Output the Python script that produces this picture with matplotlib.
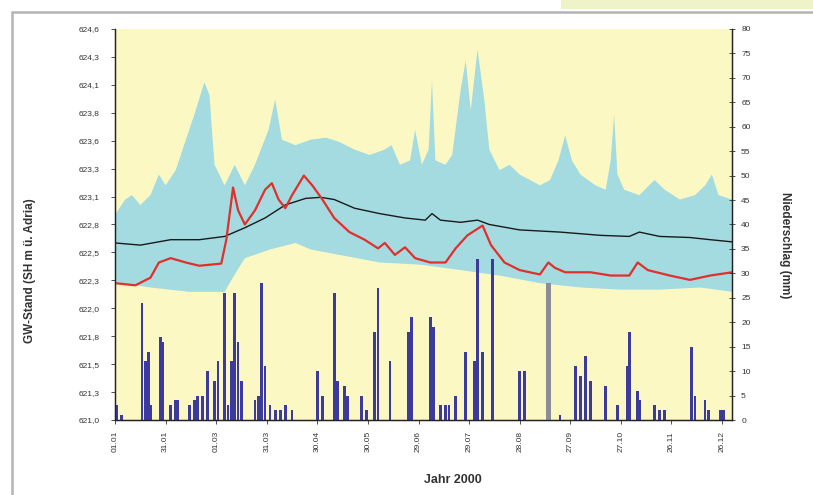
import matplotlib
import numpy as np
import pandas as pd

matplotlib.use("Agg")
import matplotlib.pyplot as plt
from matplotlib.ticker import FuncFormatter
from matplotlib.patches import Rectangle

plt.rcParams["font.family"] = ["Liberation Sans", "DejaVu Sans"]

# ---- data (day of year 2000) ----
band_top_day = [0, 6, 10, 15, 21, 26, 30, 36, 42, 47, 53, 56, 59, 65, 71, 77, 83, 91, 95, 99,
                107, 116, 125, 133, 142, 151, 160, 164, 169, 175, 178, 182, 186, 188, 190, 196,
                200, 205, 208, 211, 213, 215, 219, 222, 228, 234, 240, 246, 252, 258, 263, 267,
                271, 276, 285, 291, 294, 296, 298, 302, 311, 320, 326, 335, 344, 350, 354, 358, 366]
band_top_gw = [622.89, 623.03, 623.07, 622.98, 623.07, 623.26, 623.16, 623.30, 623.58, 623.81,
               624.11, 623.99, 623.35, 623.16, 623.35, 623.16, 623.35, 623.67, 623.95, 623.58,
               623.53, 623.58, 623.60, 623.56, 623.49, 623.44, 623.49, 623.53, 623.35, 623.39,
               623.67, 623.35, 623.49, 624.13, 623.39, 623.35, 623.44, 624.04, 624.31, 623.85,
               624.13, 624.41, 623.95, 623.49, 623.30, 623.35, 623.26, 623.21, 623.16, 623.21,
               623.39, 623.62, 623.39, 623.26, 623.16, 623.12, 623.39, 623.81, 623.26, 623.12,
               623.07, 623.21, 623.12, 623.03, 623.07, 623.16, 623.26, 623.07, 623.03]

band_low_day = [0, 21, 44, 65, 71, 77, 92, 107, 116, 133, 157, 181, 205, 228, 252, 276, 300, 323, 347, 366]
band_low_gw = [622.27, 622.22, 622.18, 622.18, 622.34, 622.49, 622.57, 622.63, 622.57, 622.52,
               622.45, 622.43, 622.38, 622.33, 622.26, 622.22, 622.20, 622.20, 622.22, 622.18]

mean_day = [0, 15, 33, 50, 65, 77, 89, 101, 113, 122, 130, 142, 157, 172, 184, 188, 193, 205,
            215, 222, 240, 264, 288, 305, 311, 323, 341, 353, 366]
mean_gw = [622.63, 622.61, 622.66, 622.66, 622.69, 622.77, 622.86, 622.98, 623.04, 623.05,
           623.03, 622.95, 622.90, 622.86, 622.84, 622.90, 622.84, 622.82, 622.84, 622.80,
           622.75, 622.73, 622.70, 622.69, 622.73, 622.69, 622.68, 622.66, 622.64]

gw2000_day = [0, 12, 21, 26, 33, 42, 50, 63, 66, 70, 73, 77, 83, 89, 93, 97, 101, 105, 112, 117,
              123, 130, 139, 148, 156, 160, 166, 172, 178, 187, 196, 202, 209, 218, 223, 231,
              240, 252, 257, 261, 267, 282, 294, 305, 310, 316, 329, 341, 353, 366]
gw2000_gw = [622.26, 622.24, 622.31, 622.45, 622.49, 622.45, 622.42, 622.44, 622.66, 623.14,
             622.93, 622.80, 622.93, 623.12, 623.18, 623.03, 622.95, 623.07, 623.25, 623.16,
             623.03, 622.86, 622.73, 622.66, 622.58, 622.63, 622.52, 622.59, 622.49, 622.45,
             622.45, 622.58, 622.70, 622.79, 622.61, 622.45, 622.38, 622.34, 622.45, 622.40,
             622.36, 622.36, 622.33, 622.33, 622.45, 622.38, 622.33, 622.29, 622.33, 622.36]

rain_day = [1, 4, 16, 18, 20, 21, 27, 28, 33, 36, 37, 44, 47, 49, 52, 55, 59, 61, 65, 67, 69,
            71, 73, 75, 83, 85, 87, 89, 92, 95, 98, 101, 105, 120, 123, 130, 132, 136, 138, 146,
            149, 154, 156, 163, 174, 176, 187, 189, 193, 196, 198, 202, 208, 213, 215, 218, 224,
            240, 243, 264, 273, 276, 279, 282, 291, 298, 304, 305, 310, 311, 320, 323, 326, 342,
            344, 350, 352, 359, 361]
rain_mm = [3, 1, 24, 12, 14, 3, 17, 16, 3, 4, 4, 3, 4, 5, 5, 10, 8, 12, 26, 3, 12,
           26, 16, 8, 4, 5, 28, 11, 3, 2, 2, 3, 2, 10, 5, 26, 8, 7, 5, 5,
           2, 18, 27, 12, 18, 21, 21, 19, 3, 3, 3, 5, 14, 12, 33, 14, 33,
           10, 10, 1, 11, 9, 13, 8, 7, 3, 11, 18, 6, 4, 3, 2, 2, 15,
           5, 4, 2, 2, 2]

rain_grey_day = [257]
rain_grey_mm = [28]

gw_ticks = np.linspace(621.0, 624.6, 15)
rain_ticks = np.arange(0, 81, 5)
date_ticks = np.arange(0, 361, 30)
date_labels = [(pd.Timestamp("2000-01-01") + pd.Timedelta(days=int(d))).strftime("%d.%m")
               for d in date_ticks]

# ---- figure ----
fig = plt.figure(figsize=(8.13, 4.95), dpi=100)
ax = fig.add_axes([0.1415, 0.1515, 0.759, 0.790])
ax2 = ax.twinx()

ax.set_facecolor("#fcf8c4")

poly_x = np.concatenate([band_top_day, band_low_day[::-1]])
poly_y = np.concatenate([band_top_gw, band_low_gw[::-1]])
ax.fill(poly_x, poly_y, color="#a3dbe0", lw=0, zorder=1)
ax.plot(mean_day, mean_gw, color="#1a1a1a", lw=1.0, zorder=3)
ax.plot(gw2000_day, gw2000_gw, color="#e0302c", lw=1.6, zorder=3)

ax2.bar(rain_day, rain_mm, width=1.6, color="#3c3a9a", lw=0, align="center")
ax2.bar(rain_grey_day, rain_grey_mm, width=3.2, color="#8c8c94", lw=0, align="center")

ax.set_xlim(0, 366)
ax.set_ylim(621.0, 624.6)
ax2.set_ylim(0, 80)

ax.set_yticks(gw_ticks)
ax.yaxis.set_major_formatter(FuncFormatter(lambda v, p: f"{v:.1f}".replace(".", ",")))
ax2.set_yticks(rain_ticks)
ax.set_xticks(date_ticks)
ax.set_xticklabels(date_labels, rotation=90)

for a in (ax, ax2):
    a.tick_params(labelsize=6, colors="#333333", length=3, width=0.6)
    a.spines["top"].set_visible(False)
    for s in ("left", "right", "bottom"):
        a.spines[s].set_linewidth(0.9)
        a.spines[s].set_color("#222222")
ax2.tick_params(axis="y", direction="inout", length=5, pad=4)
ax.tick_params(axis="y", pad=8)
ax.tick_params(axis="x", pad=5)

fig.text(0.037, 0.453, "GW-Stand (SH m ü. Adria)", rotation=90, ha="center", va="center",
         fontsize=8.5, fontweight="bold", color="#333333")
fig.text(0.966, 0.505, "Niederschlag (mm)", rotation=-90, ha="center", va="center",
         fontsize=8.5, fontweight="bold", color="#333333")
fig.text(0.557, 0.018, "Jahr 2000", ha="center", va="bottom",
         fontsize=9, fontweight="bold", color="#333333")

# outer frame and header strip
fig.add_artist(Rectangle((0.0148, -0.05), 1.2, 1.0258, transform=fig.transFigure,
                         fill=False, edgecolor="#b4b4b4", lw=1.8))
fig.add_artist(Rectangle((0.69, 0.982), 0.32, 0.02, transform=fig.transFigure,
                         facecolor="#eef3c8", edgecolor="none"))

fig.savefig("out.png", dpi=100)
plt.close(fig)
